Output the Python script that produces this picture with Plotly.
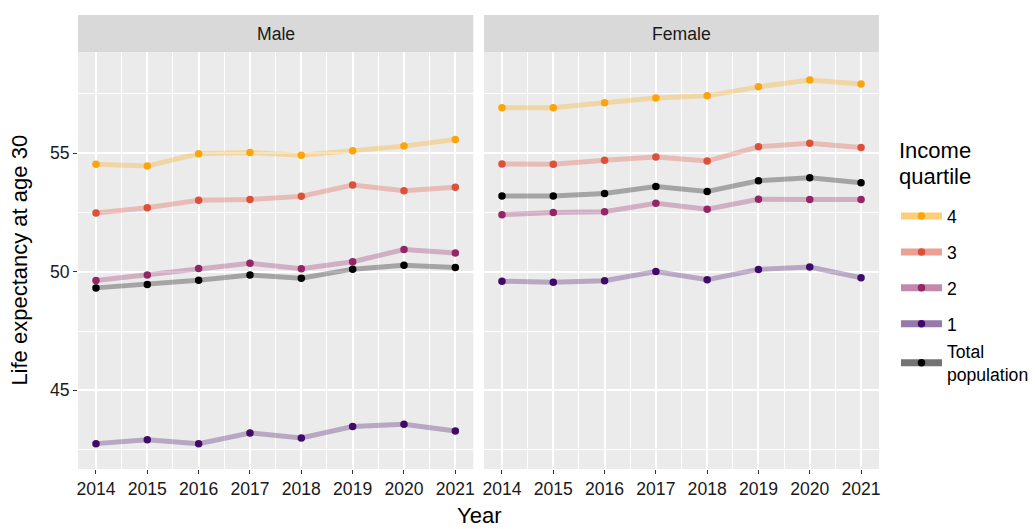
import plotly.graph_objects as go

years = [2014, 2015, 2016, 2017, 2018, 2019, 2020, 2021]

male_q4 = [54.53, 54.46, 54.98, 55.03, 54.91, 55.10, 55.30, 55.58]
male_q3 = [52.48, 52.70, 53.02, 53.05, 53.18, 53.66, 53.42, 53.57]
male_q2 = [49.63, 49.86, 50.14, 50.36, 50.13, 50.42, 50.94, 50.79]
male_q1 = [42.75, 42.91, 42.75, 43.20, 42.99, 43.47, 43.57, 43.28]
male_total = [49.32, 49.46, 49.64, 49.86, 49.73, 50.11, 50.27, 50.18]

female_q4 = [56.92, 56.92, 57.13, 57.33, 57.42, 57.80, 58.09, 57.92]
female_q3 = [54.55, 54.54, 54.70, 54.84, 54.67, 55.27, 55.42, 55.24]
female_q2 = [52.41, 52.50, 52.53, 52.89, 52.64, 53.06, 53.05, 53.05]
female_q1 = [49.60, 49.56, 49.62, 50.01, 49.66, 50.10, 50.20, 49.75]
female_total = [53.20, 53.20, 53.30, 53.60, 53.39, 53.84, 53.97, 53.75]

series_names = ["4", "3", "2", "1", "Total<br>population"]
series_colors = [(252, 165, 10), (221, 81, 58), (147, 38, 103), (66, 10, 104), (0, 0, 0)]
male_series = [male_q4, male_q3, male_q2, male_q1, male_total]
female_series = [female_q4, female_q3, female_q2, female_q1, female_total]
panels = ["Male", "Female"]

FONT = "Liberation Sans, Arial, sans-serif"
SMALL = 17.6
BIG = 22

fig = go.Figure()

def rgba(c, a):
    return f"rgba({c[0]},{c[1]},{c[2]},{a})"

# lines first (all series), then points, like ggplot layers
for pi, data in enumerate([male_series, female_series]):
    xa = "x" if pi == 0 else "x2"
    ya = "y" if pi == 0 else "y2"
    for name, col, vals in zip(series_names, series_colors, data):
        fig.add_trace(go.Scatter(
            x=years, y=vals, mode="lines", xaxis=xa, yaxis=ya,
            line=dict(color=rgba(col, 0.3), width=5),
            showlegend=False, hoverinfo="skip"))
for pi, data in enumerate([male_series, female_series]):
    xa = "x" if pi == 0 else "x2"
    ya = "y" if pi == 0 else "y2"
    for name, col, vals in zip(series_names, series_colors, data):
        fig.add_trace(go.Scatter(
            x=years, y=vals, mode="markers", xaxis=xa, yaxis=ya,
            marker=dict(color=rgba(col, 1), size=7.5, line=dict(width=0)),
            showlegend=False, name=name))

# legend entries
for i, (name, col) in enumerate(zip(series_names, series_colors)):
    fig.add_trace(go.Scatter(
        x=[None], y=[None], mode="lines+markers", name=name,
        legendgroup=f"g{i}", legend="legend2" if i == 4 else "legend",
        line=dict(color=rgba(col, 0.55), width=7),
        marker=dict(color=rgba(col, 1), size=7.5, line=dict(width=0)),
        showlegend=True))

ymin, ymax = 41.68, 59.27
xmin, xmax = 2013.65, 2021.35
d1 = [0, 0.4935]
d2 = [0.5069, 1]
ydom = [0, 0.9185]

common_x = dict(range=[xmin, xmax], tickvals=years, ticks="outside", ticklen=4,
                tickwidth=1.1, tickcolor="#333333", showgrid=True, gridcolor="white",
                gridwidth=2.2, zeroline=False, showline=False,
                tickfont=dict(family=FONT, size=SMALL, color="#1a1a1a"),
                minor=dict(dtick=0.5, tick0=2013.5, showgrid=True, gridcolor="white", gridwidth=1.1, ticks=""))
common_y = dict(range=[ymin, ymax], tickvals=[45, 50, 55], ticklen=4,
                tickwidth=1.1, tickcolor="#333333", showgrid=True, gridcolor="white",
                gridwidth=2.2, zeroline=False, showline=False, domain=ydom,
                tickfont=dict(family=FONT, size=SMALL, color="#1a1a1a"),
                minor=dict(dtick=2.5, tick0=42.5, showgrid=True, gridcolor="white", gridwidth=1.1, ticks=""))

leg_common = dict(xanchor="left", yanchor="top",
                  font=dict(family=FONT, size=SMALL, color="black"),
                  tracegroupgap=10, traceorder="grouped", itemwidth=41,
                  bgcolor="rgba(0,0,0,0)")

fig.update_layout(
    width=1035, height=529,
    margin=dict(l=78, r=156, t=15, b=60, autoexpand=False),
    paper_bgcolor="white", plot_bgcolor="#EBEBEB",
    xaxis=dict(domain=d1, anchor="y", **common_x),
    xaxis2=dict(domain=d2, anchor="y2", **common_x),
    yaxis=dict(anchor="x", ticks="outside", **common_y),
    yaxis2=dict(anchor="x2", matches="y", showticklabels=False, ticks="", **common_y),
    showlegend=True,
    legend=dict(x=1.0212, y=0.5967, **leg_common),
    legend2=dict(x=1.0212, y=0.2986, **leg_common),
    font=dict(family=FONT),
)

# strips
for dom, label in zip([d1, d2], panels):
    fig.add_shape(type="rect", xref="paper", yref="paper", x0=dom[0], x1=dom[1],
                  y0=ydom[1], y1=1, fillcolor="#D9D9D9", line=dict(width=0), layer="below")
    fig.add_annotation(x=(dom[0] + dom[1]) / 2, y=(ydom[1] + 1) / 2, xref="paper", yref="paper",
                       text=label, showarrow=False, xanchor="center", yanchor="middle",
                       font=dict(family=FONT, size=SMALL, color="#1a1a1a"))

# legend title
for txt, ypx in [("Income", 150), ("quartile", 176)]:
    fig.add_annotation(x=(897 - 78) / 801, y=(469 - ypx) / 454, xref="paper", yref="paper",
                       text=txt, showarrow=False, xanchor="left", yanchor="middle",
                       font=dict(family=FONT, size=BIG, color="black"))

fig.add_annotation(x=0.5, y=(469 - 515) / 454, xref="paper", yref="paper", text="Year", showarrow=False,
                   xanchor="center", yanchor="middle", font=dict(family=FONT, size=BIG, color="black"))
fig.add_annotation(x=-0.0724, y=0.459, xref="paper", yref="paper", text="Life expectancy at age 30",
                   showarrow=False, textangle=-90, xanchor="center", yanchor="middle",
                   font=dict(family=FONT, size=BIG, color="black"))

fig.write_html("out.html", config={"displayModeBar": False},
               post_script="document.body.style.margin='0';")
